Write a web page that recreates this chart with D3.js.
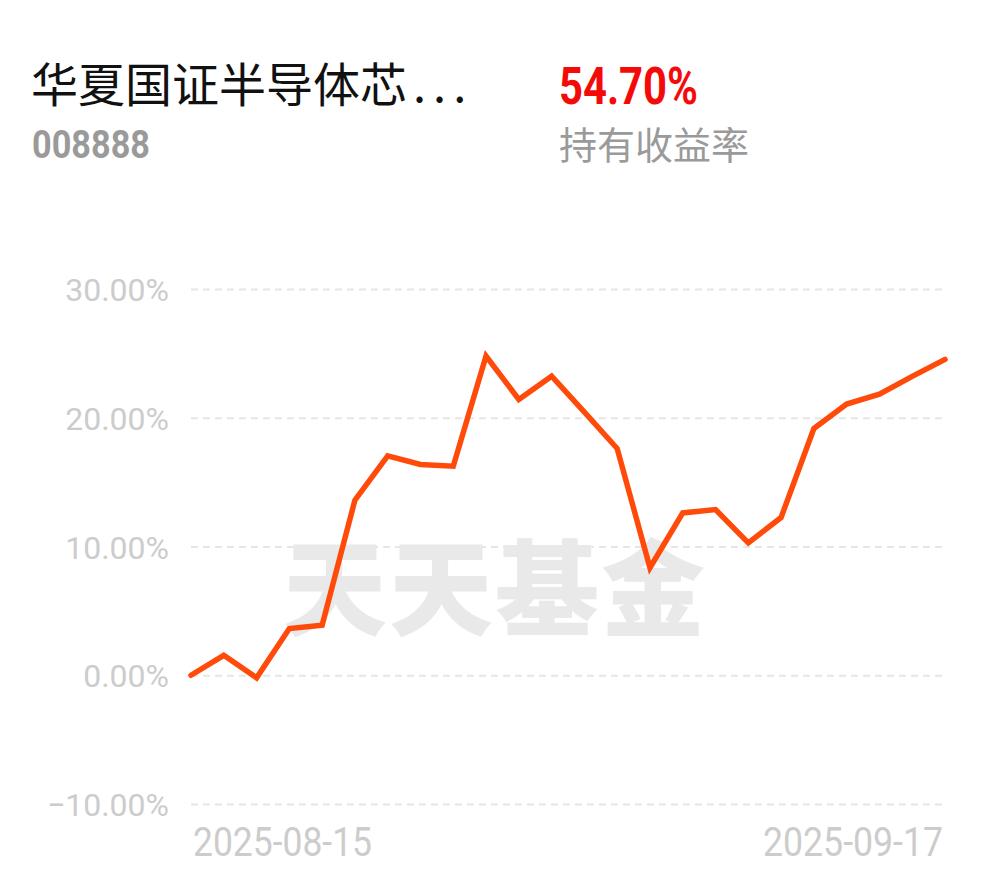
<!DOCTYPE html>
<html><head><meta charset="utf-8">
<script src="https://cdn.jsdelivr.net/npm/d3@7/dist/d3.min.js"></script>
<style>body{margin:0;background:#fff}svg{display:block}</style>
</head><body>
<svg id="c" width="990" height="878"></svg>
<script>
const dates = ["2025-08-15","2025-08-18","2025-08-19","2025-08-20","2025-08-21","2025-08-22",
  "2025-08-25","2025-08-26","2025-08-27","2025-08-28","2025-08-29",
  "2025-09-01","2025-09-02","2025-09-03","2025-09-04","2025-09-05",
  "2025-09-08","2025-09-09","2025-09-10","2025-09-11","2025-09-12",
  "2025-09-15","2025-09-16","2025-09-17"];
const returns = [0, 1.55, -0.2, 3.63, 3.88, 13.6, 17.04, 16.37, 16.24, 24.79, 21.42,
  23.23, 20.44, 17.61, 8.35, 12.61, 12.87, 10.28, 12.25, 19.17, 21.06, 21.83, 23.21, 24.53];
const yTicks = [-10, 0, 10, 20, 30];
const xTickLabels = ["2025-08-15", "2025-09-17"];
const fundName = "华夏国证半导体芯";
const fundNameEllipsis = "...";
const fundCode = "008888";
const holdReturn = "54.70%";
const holdLabel = "持有收益率";
const watermark = "天天基金";

const svg = d3.select("#c");
const x = d3.scalePoint().domain(dates).range([191, 945]);
const y = d3.scaleLinear().domain([-10, 30]).range([804, 289]);

// header
const t = svg.append("text").attr("x", 31).attr("y", 102)
  .attr("font-family", "'Noto Sans CJK SC', sans-serif").attr("font-size", 47)
  .attr("fill", "#111");
t.append("tspan").text(fundName);
t.append("tspan").attr("dx", 6).attr("letter-spacing", 7).text(fundNameEllipsis);
svg.append("text").attr("x", 32).attr("y", 158)
  .attr("font-family", "Roboto, sans-serif").attr("font-weight", 700).attr("font-size", 39)
  .attr("textLength", 118).attr("lengthAdjust", "spacingAndGlyphs")
  .attr("fill", "#9a9a9a").text(fundCode);
svg.append("text").attr("x", 559).attr("y", 104)
  .attr("font-family", "Roboto, sans-serif").attr("font-weight", 700).attr("font-size", 52)
  .attr("textLength", 139).attr("lengthAdjust", "spacingAndGlyphs")
  .attr("fill", "#f50a0a").text(holdReturn);
svg.append("text").attr("x", 559).attr("y", 159)
  .attr("font-family", "'Noto Sans CJK SC', sans-serif").attr("font-size", 38)
  .attr("fill", "#9a9a9a").text(holdLabel);

// grid
const yAxis = d3.axisLeft(y).tickValues(yTicks).tickSize(-(945 - 191)).tickPadding(22)
  .tickFormat(d => (d < 0 ? "\u2212" + Math.abs(d).toFixed(2) : d.toFixed(2)) + "%");
const g = svg.append("g").attr("transform", "translate(191,0)").call(yAxis);
g.select(".domain").remove();
g.selectAll(".tick line").attr("stroke", "#e6e6e6").attr("stroke-width", 2)
  .attr("stroke-dasharray", "7,5");
g.selectAll(".tick text").attr("fill", "#cccccc").attr("font-size", 32)
  .attr("font-family", "Roboto, sans-serif").attr("dy", "0.36em");

// watermark
svg.append("text").attr("x", 495).attr("y", 628).attr("text-anchor", "middle")
  .attr("font-family", "'Noto Sans CJK SC', sans-serif").attr("font-weight", 900)
  .attr("font-size", 104).attr("fill", "#e9e9e9").attr("letter-spacing", 2).text(watermark);

// x labels
const xl = svg.append("g");
xl.append("text").attr("x", x(xTickLabels[0]) + 2).attr("y", 856)
  .attr("font-family", "Roboto, sans-serif").attr("font-size", 40)
  .attr("textLength", 179).attr("lengthAdjust", "spacingAndGlyphs")
  .attr("fill", "#cccccc").text(xTickLabels[0]);
xl.append("text").attr("x", x(xTickLabels[1]) - 182).attr("y", 856)
  .attr("font-family", "Roboto, sans-serif").attr("font-size", 40)
  .attr("textLength", 180).attr("lengthAdjust", "spacingAndGlyphs")
  .attr("fill", "#cccccc").text(xTickLabels[1]);

// line
const line = d3.line().x((d, i) => x(dates[i])).y(d => y(d));
svg.append("path").datum(returns).attr("d", line)
  .attr("fill", "none").attr("stroke", "#ff4a0a").attr("stroke-width", 5.5)
  .attr("stroke-linejoin", "miter").attr("stroke-linecap", "round");
</script>
</body></html>
